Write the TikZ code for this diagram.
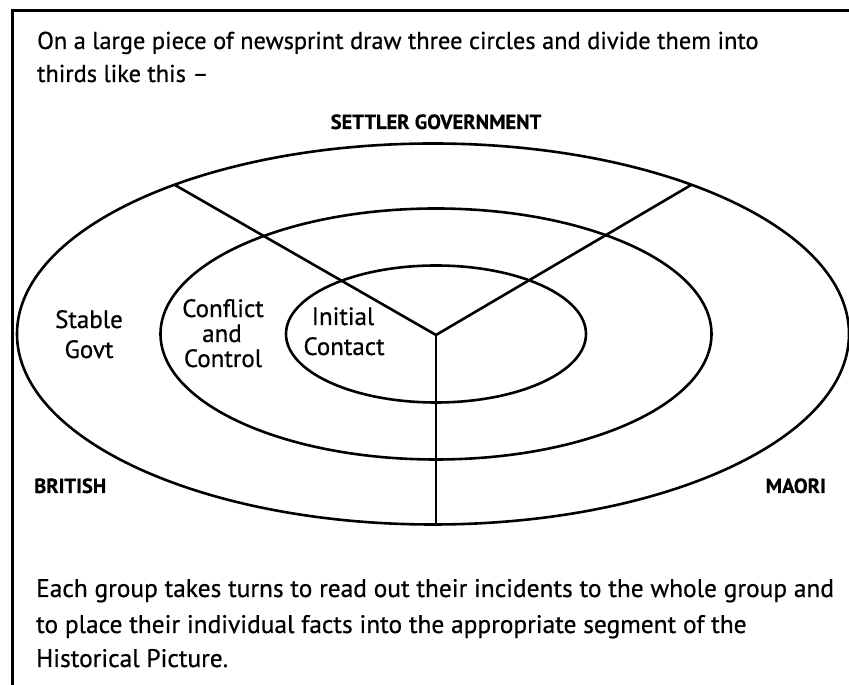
\documentclass[tikz,border=0pt]{standalone}
\usepackage{fontspec}
\setmainfont{PT Sans}[FakeBold=0.6]
\usetikzlibrary{shapes.geometric}
\begin{document}
\begin{tikzpicture}[x=1pt,y=1pt,
  frame/.style={line width=3pt},
  ring/.style={draw, ellipse, line width=2.6pt, inner sep=0pt, outer sep=0pt},
  divider/.style={line width=2.6pt},
  stem/.style={line width=2pt},
  body/.style={font=\fontsize{25.4}{33}\selectfont, inner sep=0pt, anchor=base west},
  lead/.style={body, font=\fontsize{24.4}{33}\selectfont},
  seg/.style={font=\fontsize{25}{30}\selectfont, inner sep=0pt, anchor=base},
  side/.style={font=\bfseries\fontsize{20.5}{24}\selectfont, inner sep=0pt}
]
\useasboundingbox (0,0) rectangle (849,685);
\fill[white] (0,0) rectangle (849,685);

% page frame: left and top rules
\coordinate (fbl) at (12.5,0);
\coordinate (ftr) at (849,674);
\draw[frame] (fbl) |- (ftr);

% instructions
\node[lead] (intro1) at (37,636) {On a large piece of newsprint draw three circles and divide them into};
\node[lead] (intro2) at (37,603) {thirds like this –};

% three concentric rings
\node[ring, minimum width=832pt, minimum height=381pt] (outer) at (433,351) {};
\node[ring, minimum width=551pt, minimum height=251pt] (middle) at (436,351) {};
\node[ring, minimum width=300pt, minimum height=137pt] (inner) at (436,351) {};

% dividers into thirds
\coordinate (hub) at (436,350);
\draw[divider] (outer.150) -- (hub) -- (outer.30);
\draw[stem] (hub) -- (hub |- outer.south);

% ring labels
\node[seg] (stable) at (89,357) {Stable};
\node[seg] (govt) at (89,327) {Govt};
\node[seg] (conflict) at (223,368) {Conflict};
\node[seg] (and) at (222,343) {and};
\node[seg] (control) at (223,318) {Control};
\node[seg] (initial) at (343,360) {Initial};
\node[seg] (contact) at (344,330) {Contact};

% group labels
\node[side, anchor=base] (settler) at (436,556) {SETTLER GOVERNMENT};
\node[side, anchor=base west] (british) at (34,192) {BRITISH};
\node[side, anchor=base east] (maori) at (826,192) {MAORI};

% closing instructions
\node[body] (out1) at (36,88) {Each group takes turns to read out their incidents to the whole group and};
\node[body] (out2) at (36,52) {to place their individual facts into the appropriate segment of the};
\node[body] (out3) at (36,18) {Historical Picture.};
\end{tikzpicture}
\end{document}
